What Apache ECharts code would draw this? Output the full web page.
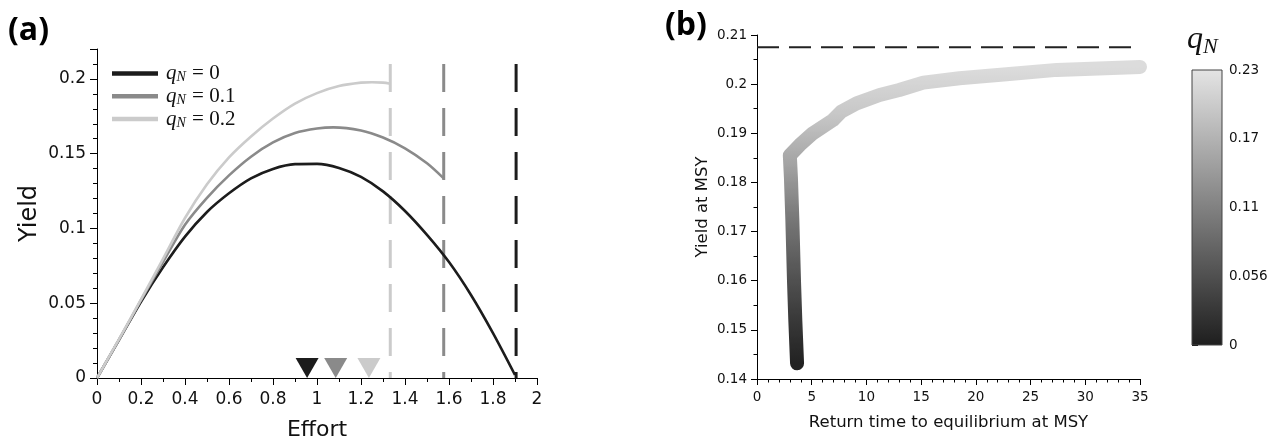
<!DOCTYPE html>
<html>
<head>
<meta charset="utf-8">
<script src="https://cdn.jsdelivr.net/npm/echarts@6/dist/echarts.min.js"></script>
<style>
html,body{margin:0;padding:0;background:#fff;}
#chart{width:1272px;height:446px;}
</style>
</head>
<body>
<div id="chart"></div>
<script>
// ---------- Panel (a): yield vs effort ----------
const effortQ0 = [0, 0.1, 0.2, 0.3, 0.4, 0.5, 0.6, 0.7, 0.8, 0.9, 1.0, 1.1, 1.2, 1.3, 1.4, 1.5, 1.6, 1.7, 1.8, 1.9];
const yieldQ0  = [0, 0.0255, 0.051, 0.074, 0.0945, 0.111, 0.1235, 0.1335, 0.1398, 0.143, 0.1432, 0.1405, 0.1345, 0.1248, 0.1117, 0.0957, 0.0775, 0.0555, 0.030, 0.002];

const effortQ01 = [0, 0.1, 0.2, 0.3, 0.4, 0.5, 0.6, 0.7, 0.8, 0.9, 1.0, 1.075, 1.2, 1.3, 1.4, 1.5, 1.576];
const yieldQ01  = [0, 0.0255, 0.052, 0.0775, 0.1025, 0.1205, 0.1355, 0.148, 0.1575, 0.1638, 0.1668, 0.1676, 0.1655, 0.1608, 0.1536, 0.1436, 0.1335];

const effortQ02 = [0, 0.1, 0.2, 0.3, 0.4, 0.5, 0.6, 0.7, 0.8, 0.9, 1.0, 1.1, 1.2, 1.25, 1.3, 1.333];
const yieldQ02  = [0, 0.026, 0.0525, 0.0796, 0.107, 0.1295, 0.1475, 0.1615, 0.1735, 0.1835, 0.1905, 0.1952, 0.1975, 0.1978, 0.1975, 0.1968];

const seriesNames = ['q0', 'q01', 'q02'];
const legendLabels = ['{q|q}{n|N}{t| = 0}', '{q|q}{n|N}{t| = 0.1}', '{q|q}{n|N}{t| = 0.2}'];
const curveColors = ['#1c1c1c', '#8a8a8a', '#cbcbcb'];

// collapse efforts (vertical dashed lines) and MSY efforts (triangles)
const collapseEffort = [1.905, 1.576, 1.333];
const collapseTop = 0.21;
const msyEffort = [0.955, 1.085, 1.236];

// ---------- Panel (b): yield at MSY vs return time ----------
const returnTime = [3.66, 3.5, 3.38, 3.23, 3.1, 3.0, 3.9, 5.1, 6.95, 7.7, 9.1, 11.2, 13.0, 15.2, 18.5, 22.8, 27.4, 35];
const yieldMSY   = [0.1432, 0.152, 0.160, 0.1724, 0.181, 0.1855, 0.1876, 0.190, 0.1927, 0.1944, 0.1961, 0.1978, 0.1988, 0.2003, 0.2012, 0.202, 0.2029, 0.2035];
const maxYield = 0.2075;

const colorbarTicks = [0, 0.05625, 0.1125, 0.16875, 0.225];
const colorbarTickLabels = ['0', '0.056', '0.11', '0.17', '0.23'];

const zip = (xs, ys) => xs.map((x, i) => [x, ys[i]]);

const chart = echarts.init(document.getElementById('chart'), null, {renderer: 'canvas'});

const axisLineStyle = {show: true, lineStyle: {color: '#000', width: 1}};
const mathFont = 'Liberation Serif';

const series = [];
const curveData = [zip(effortQ0, yieldQ0), zip(effortQ01, yieldQ01), zip(effortQ02, yieldQ02)];
curveData.forEach((d, i) => {
  series.push({
    name: seriesNames[i], type: 'line', xAxisIndex: 0, yAxisIndex: 0,
    data: d, symbol: 'none', smooth: 0.3,
    lineStyle: {color: curveColors[i], width: 2.6},
    itemStyle: {color: curveColors[i]}, z: 3
  });
});
collapseEffort.forEach((e, i) => {
  series.push({
    type: 'line', xAxisIndex: 0, yAxisIndex: 0,
    data: [[e, collapseTop], [e, 0]], symbol: 'none',
    lineStyle: {color: curveColors[i], width: 3, type: [28, 16]}, z: 2
  });
});
series.push({
  type: 'scatter', xAxisIndex: 0, yAxisIndex: 0,
  data: msyEffort.map((e, i) => ({value: [e, 0], itemStyle: {color: curveColors[i], opacity: 1}})),
  symbol: 'triangle', symbolRotate: 180, symbolSize: [23, 20], symbolOffset: [0, -10], z: 4,
  itemStyle: {opacity: 1}
});

// panel b
series.push({
  type: 'line', xAxisIndex: 1, yAxisIndex: 1,
  data: [[0, maxYield], [35, maxYield]], symbol: 'none',
  lineStyle: {color: '#222', width: 2, type: [22, 10]}
});
const thickIndex = series.length;
series.push({
  type: 'line', xAxisIndex: 1, yAxisIndex: 1,
  data: zip(returnTime, yieldMSY), symbol: 'none',
  lineStyle: {width: 14, cap: 'round', join: 'round'}
});
// colorbar
series.push({
  type: 'custom', xAxisIndex: 2, yAxisIndex: 2,
  data: [[0, colorbarTicks[colorbarTicks.length - 1]]],
  renderItem: function (params, api) {
    const p0 = api.coord([0, api.value(1)]);
    const p1 = api.coord([1, 0]);
    return {
      type: 'rect',
      shape: {x: p0[0], y: p0[1], width: p1[0] - p0[0], height: p1[1] - p0[1]},
      style: {
        fill: new echarts.graphic.LinearGradient(0, 0, 0, 1, [
          {offset: 0, color: '#e4e4e4'},
          {offset: 1, color: '#1e1e1e'}
        ]),
        stroke: '#444', lineWidth: 1
      }
    };
  }
});

const option = {
  animation: false,
  backgroundColor: '#fff',
  textStyle: {fontFamily: 'DejaVu Sans'},
  grid: [
    {left: 97, top: 49, width: 440, height: 333.3},
    {left: 757, top: 35, width: 383, height: 344},
    {left: 1192, top: 70, width: 30, height: 275}
  ],
  xAxis: [
    {gridIndex: 0, type: 'value', min: 0, max: 2, interval: 0.2,
     axisLine: axisLineStyle, axisTick: {show: true, length: 7, lineStyle: {color: '#000'}},
     minorTick: {show: true, splitNumber: 2, length: 4, lineStyle: {color: '#000'}},
     splitLine: {show: false},
     axisLabel: {fontSize: 17, color: '#111', margin: 13},
     name: 'Effort', nameLocation: 'middle', nameGap: 41,
     nameTextStyle: {fontSize: 22, color: '#111'}},
    {gridIndex: 1, type: 'value', min: 0, max: 35, interval: 5,
     axisLine: axisLineStyle, axisTick: {show: true, length: 6, lineStyle: {color: '#000'}},
     minorTick: {show: true, splitNumber: 5, length: 3.5, lineStyle: {color: '#000'}},
     splitLine: {show: false},
     axisLabel: {fontSize: 13.5, color: '#111', margin: 11},
     name: 'Return time to equilibrium at MSY', nameLocation: 'middle', nameGap: 35,
     nameTextStyle: {fontSize: 16.5, color: '#111'}},
    {gridIndex: 2, type: 'value', min: 0, max: 1, show: false}
  ],
  yAxis: [
    {gridIndex: 0, type: 'value', min: 0, max: 0.22, interval: 0.05,
     axisLine: axisLineStyle, axisTick: {show: true, length: 7, lineStyle: {color: '#000'}},
     minorTick: {show: true, splitNumber: 5, length: 4, lineStyle: {color: '#000'}},
     splitLine: {show: false},
     axisLabel: {fontSize: 17, color: '#111', margin: 11, showMaxLabel: false},
     name: 'Yield', nameLocation: 'middle', nameGap: 55, nameRotate: 90,
     nameTextStyle: {fontSize: 24, color: '#111'}},
    {gridIndex: 1, type: 'value', min: 0.14, max: 0.21, interval: 0.01,
     axisLine: axisLineStyle, axisTick: {show: true, length: 6, lineStyle: {color: '#000'}},
     minorTick: {show: true, splitNumber: 2, length: 3.5, lineStyle: {color: '#000'}},
     splitLine: {show: false},
     axisLabel: {fontSize: 13.5, color: '#111', margin: 10},
     name: 'Yield at MSY', nameLocation: 'middle', nameGap: 46, nameRotate: 90,
     nameTextStyle: {fontSize: 16.5, color: '#111'}},
    {gridIndex: 2, type: 'value', position: 'right', min: 0, max: colorbarTicks[colorbarTicks.length - 1],
     interval: colorbarTicks[1],
     axisLine: {show: false}, axisTick: {show: true, length: 6, lineStyle: {color: '#000'}},
     minorTick: {show: true, splitNumber: 5, length: 3.5, lineStyle: {color: '#000'}},
     splitLine: {show: false},
     axisLabel: {fontSize: 13.5, color: '#111', margin: 7,
       formatter: function (v) {
         const i = colorbarTicks.findIndex(t => Math.abs(t - v) < 1e-6);
         return i >= 0 ? colorbarTickLabels[i] : '';
       }}}
  ],
  legend: {
    data: seriesNames.map(n => ({name: n, icon: 'rect'})),
    left: 107, top: 58, orient: 'vertical',
    itemWidth: 46, itemHeight: 4.5, itemGap: 1.3,
    formatter: function (name) { return legendLabels[seriesNames.indexOf(name)]; },
    textStyle: {
      padding: [0, 0, 0, 3],
      rich: {
        q: {fontFamily: mathFont, fontStyle: 'italic', fontSize: 21, color: '#111', lineHeight: 22},
        n: {fontFamily: mathFont, fontStyle: 'italic', fontSize: 14, color: '#111', verticalAlign: 'bottom', lineHeight: 22, padding: [0, 1, 0, 0]},
        t: {fontFamily: mathFont, fontSize: 21, color: '#111', lineHeight: 22}
      }
    }
  },
  visualMap: {
    type: 'continuous', show: false, seriesIndex: thickIndex, dimension: 1,
    min: yieldMSY[0], max: yieldMSY[yieldMSY.length - 1],
    inRange: {color: ['#222222', '#3c3c3c', '#5a5a5a', '#7a7a7a', '#a2a2a2', '#c6c6c6', '#dcdcdc']}
  },
  graphic: [
    {type: 'text', left: 8, top: 15, style: {text: '(a)', font: 'bold 32px "Open Sans", "Liberation Sans", sans-serif', fill: '#000'}},
    {type: 'text', left: 665, top: 10, style: {text: '(b)', font: 'bold 32px "Open Sans", "Liberation Sans", sans-serif', fill: '#000'}},
    {type: 'text', left: 1187, top: 24, style: {
      text: '{q|q}{n|N}',
      rich: {
        q: {fontFamily: mathFont, fontStyle: 'italic', fontSize: 32, fill: '#111', lineHeight: 36},
        n: {fontFamily: mathFont, fontStyle: 'italic', fontSize: 22, fill: '#111', verticalAlign: 'bottom', lineHeight: 36}
      }
    }}
  ],
  series: series
};
chart.setOption(option);
</script>
</body>
</html>
